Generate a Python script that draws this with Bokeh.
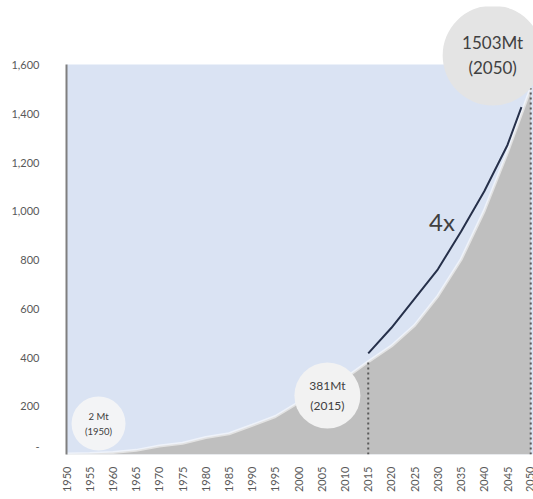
import math
from bokeh.plotting import figure
from bokeh.models import Range1d, FixedTicker, NumeralTickFormatter
from bokeh.core.properties import value
from bokeh.embed import file_html
from bokeh.resources import INLINE

# ---- data ----
years = [1950, 1955, 1960, 1965, 1970, 1975, 1980, 1985, 1990, 1995, 2000,
         2005, 2010, 2015, 2020, 2025, 2030, 2035, 2040, 2045, 2050]
production = [2, 4, 8, 17, 35, 46, 70, 85, 120, 156, 213,
              263, 313, 381, 445, 530, 650, 800, 1000, 1240, 1503]
trend_years = [2015, 2020, 2025, 2030, 2035, 2040, 2045, 2048]
trend_values = [415, 520, 640, 760, 915, 1080, 1270, 1425]
ann_years = [1950, 2015, 2050]
ann_values = [2, 381, 1503]
ann_top = ["2 Mt", "381Mt", "1503Mt"]
ann_bottom = ["(1950)", "(2015)", "(2050)"]
trend_label = "4x"
y_ticks = [0, 200, 400, 600, 800, 1000, 1200, 1400, 1600]
x_ticks = list(range(1950, 2051, 5))

# ---- styling / placement ----
X_END = 2050.6
Y_END = 1838
bubble_x = [1956.9, 2006.2, 2041.8]
bubble_y = [127, 242, 1637]
bubble_size = [54, 66, 100]
bubble_fill = ["#f3f4f6", "#f2f2f2", "#e4e4e4"]
bubble_font = ["9.5px", "12px", "17px"]
top_off = [-7, -10, -13]
bot_off = [8, 10, 12]
FONT = "Lato"
TXT = "#404040"

p = figure(frame_width=467, frame_height=448,
           x_range=Range1d(years[0], X_END), y_range=Range1d(0, Y_END),
           output_backend="svg", toolbar_location=None,
           min_border_left=66, min_border_right=0, min_border_top=6,
           min_border_bottom=0, outline_line_color=None,
           background_fill_color="white", border_fill_color="white")
p.grid.visible = False

# blue backdrop up to the top tick
p.quad(left=[years[0]], right=[X_END], bottom=[0], top=[y_ticks[-1]],
       fill_color="#dae3f3", line_color=None)
# gray production area
p.varea(x=years, y1=[0] * len(years), y2=production, fill_color="#bfbfbf")
p.line(years, production, line_color="white", line_alpha=0.55, line_width=3)

# dotted drop lines
p.segment(x0=ann_years[1:], y0=[0, 0], x1=ann_years[1:], y1=ann_values[1:],
          line_color="#595959", line_width=2, line_dash="2 3")

# growth line
p.line(trend_years, trend_values, line_color="#26304a", line_width=2)
p.text(x=[2030.9], y=[956], text=[trend_label], text_font=value(FONT),
       text_font_size="24px", text_color=TXT, text_align="center",
       text_baseline="middle")

# bubbles
p.scatter(x=bubble_x, y=bubble_y, size=bubble_size, marker="circle",
          fill_color=bubble_fill, line_color=None)
for i in range(3):
    p.text(x=[bubble_x[i]], y=[bubble_y[i]], text=[ann_top[i]],
           y_offset=top_off[i], text_font=value(FONT),
           text_font_size=bubble_font[i], text_color=TXT,
           text_align="center", text_baseline="middle")
    p.text(x=[bubble_x[i]], y=[bubble_y[i]], text=[ann_bottom[i]],
           y_offset=bot_off[i], text_font=value(FONT),
           text_font_size=bubble_font[i], text_color=TXT,
           text_align="center", text_baseline="middle")

# axes
ya = p.yaxis[0]
ya.ticker = FixedTicker(ticks=y_ticks)
ya.formatter = NumeralTickFormatter(format="0,0")
ya.major_label_overrides = {0: "-\n "}
ya.bounds = (0, y_ticks[-1])
ya.axis_line_color = "#7f7f7f"
ya.axis_line_width = 2
ya.major_tick_line_color = None
ya.minor_tick_line_color = None
ya.major_label_standoff = 21
ya.major_label_text_font = FONT
ya.major_label_text_font_size = "11px"
ya.major_label_text_color = "#595959"

xa = p.xaxis[0]
xa.ticker = FixedTicker(ticks=x_ticks)
xa.major_label_orientation = math.pi / 2
xa.axis_line_color = None
xa.major_tick_line_color = None
xa.minor_tick_line_color = None
xa.major_label_standoff = 6
xa.major_label_text_font = FONT
xa.major_label_text_font_size = "11px"
xa.major_label_text_color = "#595959"

open("out.html", "w").write(file_html(p, INLINE))
